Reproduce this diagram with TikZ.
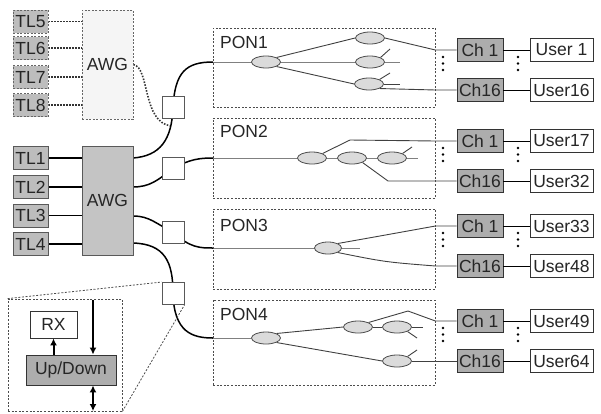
\documentclass[tikz,border=0pt]{standalone}
\usepackage{fontspec}
\setmainfont{Liberation Sans}
\usetikzlibrary{shapes.geometric,arrows.meta,backgrounds,calc}
\definecolor{tlgray}{gray}{0.74}
\definecolor{awggray}{gray}{0.77}
\definecolor{chgray}{gray}{0.68}
\definecolor{ellfill}{gray}{0.86}
\definecolor{edgegray}{gray}{0.35}
\definecolor{entrygray}{gray}{0.5}
\begin{document}
\begin{tikzpicture}[x=1pt,y=-1pt,
  every node/.style={font=\fontsize{17.5}{20}\selectfont, inner sep=0pt, text=black!85},
  box/.style={draw=edgegray, line width=0.9pt, minimum height=23pt},
  tl/.style={box, fill=tlgray, minimum width=35pt},
  tldash/.style={tl, draw=gray!80!black, dash pattern=on 2pt off 1.5pt},
  awgbox/.style={draw=edgegray, line width=0.9pt, fill=awggray, minimum width=51pt, minimum height=109pt},
  awgdash/.style={awgbox, fill=gray!8, draw=gray!80!black, dash pattern=on 2pt off 1.5pt},
  chbox/.style={box, draw=black!80, fill=chgray, minimum width=46pt},
  userbox/.style={box, draw=black!80, fill=white, minimum width=63pt},
  coup/.style={draw=gray!70!black, line width=0.9pt, fill=white, minimum width=22pt, minimum height=22pt},
  spl/.style={ellipse, draw=black!70, line width=0.8pt, fill=ellfill, minimum width=29pt, minimum height=12pt},
  ponbox/.style={draw=gray!60!black, line width=0.8pt, dash pattern=on 2pt off 1.6pt, minimum width=222pt},
  fiber/.style={black, line width=1.5pt},
  dotfiber/.style={black!80, line width=1.6pt, dash pattern=on 1.5pt off 1.5pt},
  pline/.style={black!75, line width=0.9pt},
  entry/.style={entrygray, line width=1pt},
  link/.style={black, line width=1pt},
  bigarrow/.style={black, line width=2pt, -{Latex[length=7pt,width=7pt]}},
  dblarrow/.style={black, line width=2pt, {Latex[length=7pt,width=7pt]}-{Latex[length=7pt,width=7pt]}},
  legacy/.style={draw=gray!60!black, line width=0.8pt, dash pattern=on 2pt off 1.6pt}
]
\useasboundingbox (0,0) rectangle (601,413);

% ---------- upper (dashed) AWG ----------
\node[tldash] (tl5) at (30.5,21.5) {TL5};
\node[tldash] (tl6) at (30.5,48) {TL6};
\node[tldash] (tl7) at (30.5,77) {TL7};
\node[tldash] (tl8) at (30.5,105) {TL8};
\node[awgdash] (awgd) at (107.5,64.5) {AWG};

% ---------- main AWG ----------
\node[tl] (tl1) at (30.5,158) {TL1};
\node[tl] (tl2) at (30.5,187) {TL2};
\node[tl] (tl3) at (30.5,215.5) {TL3};
\node[tl] (tl4) at (30.5,244) {TL4};
\node[awgbox] (awg) at (107.5,200.5) {AWG};

% ---------- couplers ----------
\node[coup] (c1) at (173,107) {};
\node[coup] (c2) at (173,168.5) {};
\node[coup] (c3) at (173,232) {};
\node[coup] (c4) at (173,293.5) {};

\coordinate (o1) at (133,158);
\coordinate (o2) at (133,187);
\coordinate (o3) at (133,216);
\coordinate (o4) at (133,243);
\coordinate (e1) at (213,62);
\coordinate (e2) at (213,158);
\coordinate (e3) at (213,248);
\coordinate (e4) at (213,338);
\coordinate (j1) at (171,126);

% ---------- PON boxes ----------
\node[ponbox, minimum height=79pt] (pon1) at (324,67.5) {};
\node[ponbox, minimum height=80pt] (pon2) at (324,158) {};
\node[ponbox, minimum height=80pt] (pon3) at (324,249) {};
\node[ponbox, minimum height=85pt] (pon4) at (324,342.5) {};
\node[anchor=west] (p1l) at (220,42) {PON1};
\node[anchor=west] (p2l) at (220,131) {PON2};
\node[anchor=west] (p3l) at (220,225) {PON3};
\node[anchor=west] (p4l) at (220,314) {PON4};

% ---------- splitters ----------
\node[spl] (s11) at (266,62) {};
\node[spl] (s12) at (370,38) {};
\node[spl] (s13) at (370,62) {};
\node[spl] (s14) at (369,84) {};

\node[spl] (s21) at (312,158) {};
\node[spl] (s22) at (352,158) {};
\node[spl] (s23) at (392,158) {};

\node[spl, minimum width=27pt] (s31) at (328,248) {};

\node[spl] (s41) at (266,338) {};
\node[spl] (s42) at (358,327) {};
\node[spl] (s43) at (397,327) {};
\node[spl] (s44) at (397,361) {};

% ---------- channels and users ----------
\foreach \n/\y/\c/\u in {a1/50/Ch 1/User 1, a2/90/Ch16/User16,
                         b1/141/Ch 1/User17, b2/181/Ch16/User32,
                         d1/226/Ch 1/User33, d2/266/Ch16/User48,
                         f1/321/Ch 1/User49, f2/361/Ch16/User64}{
  \node[chbox] (ch\n) at (480,\y) {\c};
  \node[userbox] (us\n) at (561.5,\y) {\u};
  \draw[link] (ch\n.east) -- (us\n.west);
}
\foreach \y in {50,141,226,321}{
  \foreach \d in {7,13.5,20}{
    \fill (443,\y+\d) circle (1.3);
    \fill (518,\y+\d) circle (1.3);
  }
}

% ---------- inset ----------
\node[legacy, minimum width=114pt, minimum height=112pt] (inset) at (65,355) {};
\node[box, draw=black!80, fill=white, minimum width=47pt, minimum height=27pt] (rx) at (53.5,324.5) {RX};
\node[box, draw=black!80, fill=chgray, minimum width=90pt, minimum height=30pt] (ud) at (71,370) {Up/Down};
\coordinate (a1) at (93,300);
\coordinate (a2) at (93,411);
\draw[bigarrow] (ud.north -| rx.south) -- (rx.south);
\draw[bigarrow] (a1) -- (a1 |- ud.north);
\draw[dblarrow] (ud.south -| a1) -- (a2);

% ---------- connectors (behind nodes) ----------
\begin{scope}[on background layer]
  % TL to AWG
  \foreach \t in {tl5,tl6,tl7,tl8}{
    \draw[dotfiber] (\t.east) -- (\t.east -| awgd.west);
  }
  \foreach \t in {tl1,tl2,tl3,tl4}{
    \draw[fiber] (\t.east) -- (\t.east -| awg.west);
  }
  % legacy AWG to coupler 1
  \draw[dotfiber] (awgd.east) .. controls (150,68) and (142,122) .. (j1);
  % AWG outputs through couplers into PONs
  \draw[fiber] (o1) .. controls (160,156) and (172,140) .. (c1.center)
               .. controls (175,72) and (186,62) .. (e1);
  \draw[fiber] (o2) .. controls (150,187) and (158,180) .. (c2.center)
               .. controls (190,159) and (200,158) .. (e2);
  \draw[fiber] (o3) .. controls (150,216) and (156,224) .. (c3.center)
               .. controls (190,248) and (200,248) .. (e3);
  \draw[fiber] (o4) .. controls (165,244) and (173,262) .. (c4.center)
               .. controls (174,332) and (192,338) .. (e4);
  % inset zoom lines
  \draw[legacy] (inset.north west) -- (c4.north west);
  \draw[legacy] (inset.south east) -- (c4.south east);

  % PON1
  \draw[entry] (e1) -- (400,62);
  \draw[pline] (s11.north east) -- (s12.west);
  \draw[pline] (s11.south east) -- (s14.west);
  \draw[pline] (s12.east) -- (pon1.east |- cha1) -- (cha1.west);
  \draw[pline] (s14.south east) -- (pon1.east |- cha2) -- (cha2.west);
  \draw[pline] (s13.north east) -- (390,49);
  \draw[pline] (s14.north east) -- (390,73);
  \draw[pline] (s14.east) -- (400,84);

  % PON2
  \draw[entry] (e2) -- (418,158);
  \draw[pline] (s21.north east) -- (350,140) -- (pon2.east |- chb1) -- (chb1.west);
  \draw[pline] (s22.south east) -- (388,181) -- (pon2.east |- chb2) -- (chb2.west);
  \draw[pline] (s23.north east) -- (412,147);

  % PON3
  \draw[entry] (e3) -- (360,248);
  \draw[pline] (s31.north east) .. controls (380,236) .. (pon3.east |- chd1) -- (chd1.west);
  \draw[pline] (s31.south east) .. controls (385,262) .. (pon3.east |- chd2) -- (chd2.west);

  % PON4
  \draw[entry] (e4) -- (s41.west);
  \draw[pline] (s41.north east) -- (s42.west);
  \draw[pline] (s41.south east) -- (s44.west);
  \draw[pline] (s42.east) -- (s43.west);
  \draw[pline] (s42.north east) -- (408,311) -- (pon4.east |- chf1) -- (chf1.west);
  \draw[pline] (s43.east) -- (423,327);
  \draw[pline] (s43.south east) -- (417,338);
  \draw[pline] (s44.north east) -- (417,350);
  \draw[pline] (s44.east) -- (pon4.east |- chf2) -- (chf2.west);
\end{scope}
\end{tikzpicture}
\end{document}
